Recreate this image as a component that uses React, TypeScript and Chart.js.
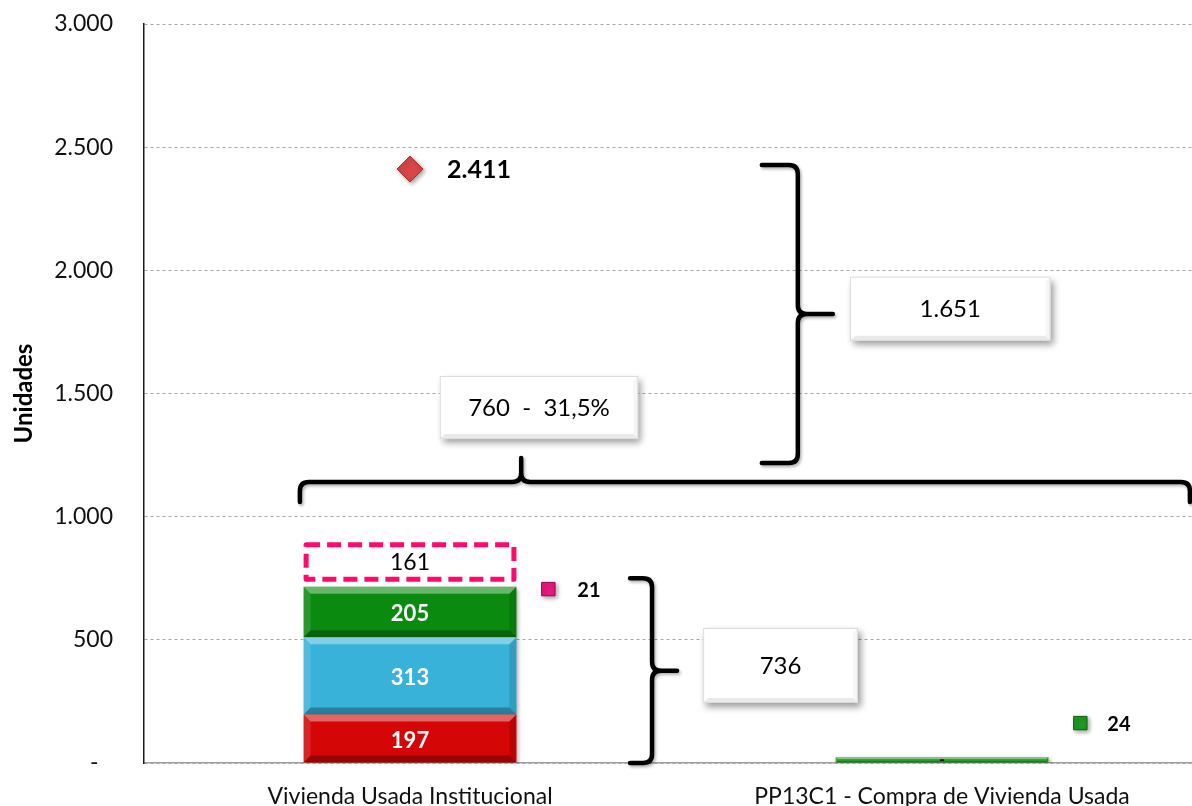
import React, { useEffect, useRef } from 'react';
import { Chart, registerables } from 'chart.js';

Chart.register(...registerables);

// ---------- data ----------
const categories = ['Vivienda Usada Institucional', 'PP13C1 - Compra de Vivienda Usada'];
const redValues = [197, 0];
const blueValues = [313, 0];
const greenValues = [205, 24];
const pendingValues = [161, 0];
const totalPoint = [{ x: 0, y: 2411 }];
const pinkPoint = [{ x: 0.26, y: 706 }];
const greenPoint = [{ x: 1.26, y: 162 }];
const pinkPointLabel = ['21'];
const greenPointLabel = ['24'];
const yTickLabels = ['-\u2002\u2009', '500', '1.000', '1.500', '2.000', '2.500', '3.000'];

// ---------- annotations (data units: x on -0.5..1.5 category scale, y on value scale) ----------
const braceSpecs = [
  { kind: 'v', x: 0.455, from: 0, to: 750, hook: 22, tip: 25 },
  { kind: 'v', x: 0.729, from: 1218, to: 2428, hook: 36, tip: 35 },
  { kind: 'h', y: 1141, from: -0.207, to: 1.466, at: 0.209, hook: 20, tip: 24 },
];
const boxSpecs = [
  { text: '736', x0: 0.551, x1: 0.842, y0: 548, y1: 244 },
  { text: '760  -  31,5%', x0: 0.056, x1: 0.429, y0: 1571, y1: 1315 },
  { text: '1.651', x0: 0.827, x1: 1.204, y0: 1974, y1: 1714 },
];

const fmt = (n: number) => String(Math.round(n)).replace(/\B(?=(\d{3})+(?!\d))/g, '.');

function poly(ctx: CanvasRenderingContext2D, pts: number[][], fill: string) {
  ctx.beginPath();
  ctx.moveTo(pts[0][0], pts[0][1]);
  for (let i = 1; i < pts.length; i++) ctx.lineTo(pts[i][0], pts[i][1]);
  ctx.closePath();
  ctx.fillStyle = fill;
  ctx.fill();
}

function bevel(ctx: CanvasRenderingContext2D, l: number, t: number, r: number, b: number, size = 7, k = 1) {
  const s = Math.min(size, (b - t) / 3, (r - l) / 3);
  poly(ctx, [[l, t], [r, t], [r - s, t + s], [l + s, t + s]], `rgba(255,255,255,${0.38 * k})`);
  poly(ctx, [[l, t], [l + s, t + s], [l + s, b - s], [l, b]], `rgba(255,255,255,${0.12 * k})`);
  poly(ctx, [[r, t], [r, b], [r - s, b - s], [r - s, t + s]], `rgba(0,0,0,${0.12 * k})`);
  poly(ctx, [[l, b], [r, b], [r - s, b - s], [l + s, b - s]], `rgba(0,0,0,${0.28 * k})`);
}

function vBrace(ctx: CanvasRenderingContext2D, x: number, yTop: number, yBot: number, hook: number, tip: number) {
  const r = 9;
  const yMid = (yTop + yBot) / 2;
  ctx.beginPath();
  ctx.moveTo(x - hook, yTop);
  ctx.lineTo(x - r, yTop);
  ctx.quadraticCurveTo(x, yTop, x, yTop + r);
  ctx.lineTo(x, yMid - r);
  ctx.quadraticCurveTo(x, yMid, x + r, yMid);
  ctx.lineTo(x + tip, yMid);
  ctx.moveTo(x + r, yMid);
  ctx.quadraticCurveTo(x, yMid, x, yMid + r);
  ctx.lineTo(x, yBot - r);
  ctx.quadraticCurveTo(x, yBot, x - r, yBot);
  ctx.lineTo(x - hook, yBot);
  ctx.stroke();
}

function hBrace(ctx: CanvasRenderingContext2D, y: number, x0: number, x1: number, xt: number, hook: number, tip: number) {
  const r = 9;
  ctx.beginPath();
  ctx.moveTo(x0, y + hook);
  ctx.lineTo(x0, y + r);
  ctx.quadraticCurveTo(x0, y, x0 + r, y);
  ctx.lineTo(xt - r, y);
  ctx.quadraticCurveTo(xt, y, xt, y - r);
  ctx.lineTo(xt, y - tip);
  ctx.moveTo(xt, y - r);
  ctx.quadraticCurveTo(xt, y, xt + r, y);
  ctx.lineTo(x1 - r, y);
  ctx.quadraticCurveTo(x1, y, x1, y + r);
  ctx.lineTo(x1, y + hook);
  ctx.stroke();
}

const decorPlugin = {
  id: 'decor',
  beforeDatasetDraw(chart: any, args: any) {
    const ds = chart.data.datasets[args.index];
    if (ds.label === 'Pendiente') return;
    const ctx = chart.ctx;
    ctx.save();
    ctx.shadowColor = 'rgba(0,0,0,0.35)';
    ctx.shadowBlur = 4;
    ctx.shadowOffsetX = 2;
    ctx.shadowOffsetY = 2;
  },
  afterDatasetDraw(chart: any, args: any) {
    const ds = chart.data.datasets[args.index];
    if (ds.label === 'Pendiente') return;
    chart.ctx.restore();
  },
  afterDatasetsDraw(chart: any) {
    const ctx: CanvasRenderingContext2D = chart.ctx;
    const xs = chart.scales.xp;
    const ys = chart.scales.y;

    // bevels for solid bars
    [0, 1, 2].forEach((di) => {
      const meta = chart.getDatasetMeta(di);
      meta.data.forEach((el: any, i: number) => {
        const v = chart.data.datasets[di].data[i];
        if (!v) return;
        const l = el.x - el.width / 2, r = el.x + el.width / 2;
        const t = Math.min(el.y, el.base), b = Math.max(el.y, el.base);
        bevel(ctx, l, t, r, b);
      });
    });

    // dashed pending box
    const pMeta = chart.getDatasetMeta(3);
    pMeta.data.forEach((el: any, i: number) => {
      const v = pendingValues[i];
      if (!v) return;
      const lw = 5;
      const gap = 5;
      const l = el.x - el.width / 2 + lw / 2, r = el.x + el.width / 2 - lw / 2;
      const t = Math.min(el.y, el.base) - gap + lw / 2, b = Math.max(el.y, el.base) - gap - lw / 2;
      ctx.save();
      ctx.fillStyle = '#ffffff';
      ctx.fillRect(l, t, r - l, b - t);
      ctx.strokeStyle = '#ff0a6c';
      ctx.lineWidth = lw;
      ctx.setLineDash([14, 7]);
      ctx.lineJoin = 'round';
      ctx.beginPath();
      ctx.rect(l, t, r - l, b - t);
      ctx.stroke();
      ctx.restore();
      ctx.save();
      ctx.fillStyle = '#000';
      ctx.font = '23px Lato';
      ctx.textAlign = 'center';
      ctx.textBaseline = 'middle';
      ctx.fillText(fmt(v), el.x, (t + b) / 2 + 1);
      ctx.restore();
    });

    // bar labels
    [0, 1, 2].forEach((di) => {
      const meta = chart.getDatasetMeta(di);
      meta.data.forEach((el: any, i: number) => {
        const v = chart.data.datasets[di].data[i];
        if (!v) return;
        const cy = (el.y + el.base) / 2;
        ctx.save();
        ctx.textAlign = 'center';
        ctx.textBaseline = 'middle';
        if (v < 50) {
          ctx.fillStyle = '#000';
          ctx.font = 'bold 16px Lato';
          ctx.fillText('-', el.x, cy);
        } else {
          ctx.fillStyle = '#fff';
          ctx.font = 'bold 22px Lato';
          ctx.fillText(fmt(v), el.x, cy + 2);
        }
        ctx.restore();
      });
    });

    // marker labels
    const markerLabels: { di: number; text: (i: number) => string; dx: number; size: number }[] = [
      { di: 4, text: (i) => fmt(totalPoint[i].y), dx: 37, size: 25 },
      { di: 5, text: (i) => pinkPointLabel[i], dx: 29, size: 20 },
      { di: 6, text: (i) => greenPointLabel[i], dx: 27, size: 20 },
    ];
    markerLabels.forEach((m) => {
      const meta = chart.getDatasetMeta(m.di);
      meta.data.forEach((el: any, i: number) => {
        ctx.save();
        ctx.fillStyle = '#000';
        ctx.font = `bold ${m.size}px Lato`;
        ctx.textAlign = 'left';
        ctx.textBaseline = 'middle';
        ctx.fillText(m.text(i), el.x + m.dx, el.y + 1);
        ctx.restore();
      });
    });

    // braces
    ctx.save();
    ctx.strokeStyle = '#000';
    ctx.lineWidth = 4.5;
    ctx.lineCap = 'round';
    ctx.lineJoin = 'round';
    ctx.shadowColor = 'rgba(0,0,0,0.3)';
    ctx.shadowBlur = 3;
    ctx.shadowOffsetX = 1.5;
    ctx.shadowOffsetY = 2;
    braceSpecs.forEach((s: any) => {
      if (s.kind === 'v') {
        vBrace(ctx, xs.getPixelForValue(s.x), ys.getPixelForValue(s.to), ys.getPixelForValue(s.from), s.hook, s.tip);
      } else {
        hBrace(ctx, ys.getPixelForValue(s.y), xs.getPixelForValue(s.from), xs.getPixelForValue(s.to), xs.getPixelForValue(s.at), s.hook, s.tip);
      }
    });
    ctx.restore();

    // boxes
    boxSpecs.forEach((b) => {
      const l = xs.getPixelForValue(b.x0), r = xs.getPixelForValue(b.x1);
      const t = ys.getPixelForValue(b.y0), btm = ys.getPixelForValue(b.y1);
      const w = r - l, h = btm - t;
      ctx.save();
      ctx.shadowColor = 'rgba(0,0,0,0.4)';
      ctx.shadowBlur = 7;
      ctx.shadowOffsetX = 3;
      ctx.shadowOffsetY = 4;
      ctx.fillStyle = '#ffffff';
      ctx.fillRect(l, t, w, h);
      ctx.restore();
      ctx.save();
      bevel(ctx, l, t, r, btm, 5, 0.3);
      ctx.strokeStyle = '#dcdcdc';
      ctx.lineWidth = 1;
      ctx.strokeRect(l + 0.5, t + 0.5, w - 1, h - 1);
      ctx.fillStyle = '#000';
      ctx.font = '24px Lato';
      ctx.textAlign = 'center';
      ctx.textBaseline = 'middle';
      ctx.fillText(b.text, (l + r) / 2, (t + btm) / 2 + 1);
      ctx.restore();
    });
  },
};

export default function App() {
  const ref = useRef<HTMLCanvasElement>(null);
  useEffect(() => {
    const canvas = ref.current;
    if (!canvas) return;
    Chart.defaults.font.family = 'Lato';
    const barCommon = { borderWidth: 0, stack: 's', xAxisID: 'x', yAxisID: 'y', grouped: false, barPercentage: 0.4, categoryPercentage: 1 };
    const chart = new Chart(canvas, {
      type: 'bar',
      data: {
        labels: categories,
        datasets: [
          { type: 'bar', label: 'Rojo', data: redValues, backgroundColor: '#d40606', ...barCommon },
          { type: 'bar', label: 'Azul', data: blueValues, backgroundColor: '#38b2d8', ...barCommon },
          { type: 'bar', label: 'Verde', data: greenValues, backgroundColor: ['#0b8a10', '#2ea62e'], ...barCommon },
          { type: 'bar', label: 'Pendiente', data: pendingValues, backgroundColor: 'rgba(0,0,0,0)', ...barCommon },
          { type: 'scatter', label: 'Total', data: totalPoint, xAxisID: 'xp', yAxisID: 'y', pointStyle: 'rectRot', pointRadius: 13, backgroundColor: '#d84646', borderColor: '#a82828', borderWidth: 1 } as any,
          { type: 'scatter', label: 'Rosa', data: pinkPoint, xAxisID: 'xp', yAxisID: 'y', pointStyle: 'rect', pointRadius: 9.5, backgroundColor: '#e8187f', borderColor: '#9a0650', borderWidth: 1 } as any,
          { type: 'scatter', label: 'VerdeP', data: greenPoint, xAxisID: 'xp', yAxisID: 'y', pointStyle: 'rect', pointRadius: 9.5, backgroundColor: '#1f9a1f', borderColor: '#0c640c', borderWidth: 1 } as any,
        ],
      },
      options: {
        responsive: false,
        animation: false,
        devicePixelRatio: 1,
        events: [],
        layout: { autoPadding: false, padding: { top: 24, right: 0, bottom: 0, left: 0 } },
        plugins: { legend: { display: false }, tooltip: { enabled: false } },
        scales: {
          x: {
            type: 'category',
            stacked: true,
            offset: true,
            grid: { display: false },
            border: { color: '#a0a0a0', width: 1.5 },
            ticks: { color: '#111', font: { family: 'Lato', size: 23 }, padding: 12, maxRotation: 0, autoSkip: false },
            afterFit: (s: any) => { s.height = 43; },
          },
          xp: {
            type: 'linear',
            display: false,
            offset: false,
            bounds: 'data',
            grace: 0,
            min: -0.5,
            max: 1.5,
          },
          y: {
            stacked: true,
            min: 0,
            max: 3000,
            grid: { color: '#a6a6a6', lineWidth: 1, drawTicks: true, tickLength: 31, tickColor: 'rgba(0,0,0,0)' },
            border: { color: '#1a1a1a', width: 1.5, dash: [3, 3] },
            ticks: {
              stepSize: 500,
              padding: 0,
              color: '#111',
              font: { family: 'Lato', size: 23 },
              callback: (v: any) => yTickLabels[Math.round(Number(v) / 500)],
            },
            title: { display: true, text: 'Unidades', color: '#000', font: { family: 'Lato', size: 24, weight: 'bold' }, padding: { top: 10, bottom: 0 } },
            afterFit: (s: any) => { s.width = 144; },
          },
        },
      },
      plugins: [decorPlugin],
    } as any);
    return () => chart.destroy();
  }, []);
  return (
    <div style={{ position: 'fixed', left: 0, top: 0, width: 1192, height: 806, overflow: 'hidden', background: '#fff' }}>
      <canvas ref={ref} width={1208} height={806} style={{ display: 'block', width: 1208, height: 806 }} />
    </div>
  );
}
